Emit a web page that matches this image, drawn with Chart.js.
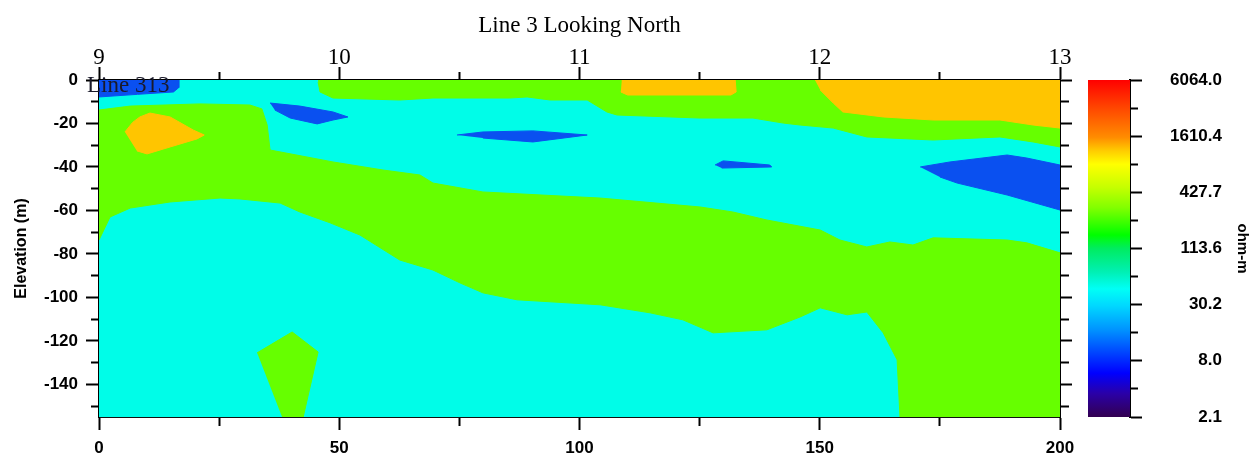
<!DOCTYPE html>
<html>
<head>
<meta charset="utf-8">
<title>Line 3 Looking North</title>
<script src="https://cdn.jsdelivr.net/npm/chart.js@4/dist/chart.umd.min.js"></script>
<style>
  body { margin: 0; background: #fff; }
  #wrap { position: relative; width: 1260px; height: 460px; }
  #wrap canvas { position: absolute; top: 0; }
</style>
</head>
<body>
<div id="wrap">
  <canvas id="section" width="1260" height="460" style="left:0"></canvas>
  <canvas id="colorbar" width="200" height="460" style="left:1060px"></canvas>
</div>
<script>
// section frame [distance (m), elevation (m)]
var sectionBox = [[0, 0], [200, 0], [200, -155], [0, -155]];

// green zones
var greenTop = [[45.6, 0], [200, 0], [200, -30.8], [194.4, -28.5], [187.5, -26.2], [173.6, -27.6],
  [159.8, -26.2], [152.8, -22.1], [145.9, -20.7], [142.4, -19.8], [136.1, -17.5], [125.1, -17.5],
  [107.8, -16.1], [105.7, -14.7], [101.6, -9.2], [93.9, -9.2], [89.1, -7.8], [85.5, -8.3],
  [69.5, -8.3], [62.6, -9.2], [48.7, -8.3], [46.0, -5.5], [45.6, -0.9]];
var greenMain = [[0, -13.8], [6.5, -12.0], [21.0, -11.0], [31.4, -11.5], [33.9, -13.3], [35.0, -20.7],
  [35.6, -32.2], [48.7, -37.7], [59.1, -41.4], [66.8, -43.7], [69.5, -47.4], [79.9, -51.5],
  [104.3, -54.3], [125.1, -58.4], [131.9, -60.7], [139.0, -64.4], [150.1, -69.0], [154.2, -73.6],
  [159.8, -76.8], [164.6, -74.5], [169.4, -75.9], [173.6, -72.6], [189.0, -73.6], [193.1, -74.9],
  [200, -79.5], [200, -155], [166.7, -155], [166.1, -128.7], [163.2, -116.3], [159.8, -106.7],
  [155.7, -108.0], [150.1, -104.8], [145.9, -109.0], [139.0, -114.9], [127.8, -116.3], [121.5, -110.3],
  [114.7, -107.1], [104.3, -103.4], [87.0, -101.1], [79.9, -97.9], [75.1, -93.3], [69.5, -87.4],
  [62.6, -82.8], [54.3, -71.3], [48.1, -65.7], [41.8, -60.7], [37.7, -56.6], [29.3, -54.7],
  [25.2, -54.3], [14.8, -56.1], [6.5, -58.9], [2.3, -63.0], [0, -73.6]];
var greenKnob = [[32.9, -125.5], [40.2, -115.9], [45.6, -125.1], [42.5, -155], [38.1, -155]];

// orange zones
var orangeLeft = [[5.4, -23.9], [7.0, -19.5], [8.5, -17.0], [10.6, -15.2], [14.8, -17.0], [19.6, -23.0],
  [21.9, -25.3], [20.4, -27.1], [14.8, -30.8], [10.0, -34.0], [7.9, -32.6]];
var orangeMid = [[108.8, 0], [132.4, 0], [132.6, -5.5], [131.5, -6.9], [110.0, -6.9], [108.6, -5.5]];
var orangeRight = [[149.0, 0], [200, 0], [200, -22.1], [194.4, -20.7], [187.5, -18.4], [173.6, -18.4],
  [163.2, -17.0], [154.8, -14.7], [152.8, -10.6], [150.1, -4.6]];

// blue zones
var blueCorner = [[0, 0], [16.6, 0], [16.6, -3.5], [15.5, -5.5], [8.0, -6.6], [0, -7.8]];
var blueLens1 = [[35.6, -10.6], [41.8, -12.0], [48.7, -14.7], [51.8, -17.0], [48.7, -18.4], [45.4, -20.2],
  [39.8, -17.5], [36.6, -13.8]];
var blueLens2 = [[74.5, -25.3], [79.9, -23.9], [90.3, -23.4], [101.6, -25.3], [90.3, -28.5], [79.9, -26.7]];
var blueLens3 = [[128.2, -39.1], [129.9, -37.2], [139.6, -39.1], [140.0, -40.0], [129.6, -40.5]];
var blueWedge = [[170.9, -40.0], [177.1, -37.7], [189.0, -34.5], [193.1, -35.9], [200, -39.1], [200, -59.8],
  [189.0, -52.9], [178.6, -47.4], [175.0, -44.6]];

// colour scale labels (ohm-m)
var scaleTicks = [2.1, 8.0, 30.2, 113.6, 427.7, 1610.4, 6064.0];

var CYAN = '#00fde8', GREEN = '#66ff00', ORANGE = '#ffc500', BLUE = '#0a50f0';

function zone(name, pts, color, order) {
  return {
    label: name,
    data: pts.map(function (p) { return {x: p[0], y: p[1]}; }),
    showLine: true,
    fill: 'shape',
    backgroundColor: color,
    borderColor: color,
    borderWidth: 1,
    pointRadius: 0,
    tension: 0,
    order: order
  };
}

// minor tick = shorter mark (dash trick)
function minorDash(step, fromOuter) {
  return function (c) {
    if (!c.tick || Math.abs(c.tick.value % step) < 1e-9) return [];
    return fromOuter ? [0, 5, 8, 100] : [8, 100];
  };
}

var serif = 'Liberation Serif';
var sans = 'Liberation Sans';

var lineTag = {
  id: 'lineTag',
  afterDraw: function (chart) {
    var ctx = chart.ctx, a = chart.chartArea;
    ctx.save();
    ctx.font = '23px "' + serif + '"';
    ctx.fillStyle = '#1a1a2a';
    ctx.textBaseline = 'middle';
    ctx.fillText('Line 313', a.left - 12, a.top + 6);
    ctx.restore();
  }
};

new Chart(document.getElementById('section'), {
  type: 'scatter',
  data: {
    datasets: [
      zone('background', sectionBox, CYAN, 10),
      zone('greenTop', greenTop, GREEN, 5),
      zone('greenMain', greenMain, GREEN, 5),
      zone('greenKnob', greenKnob, GREEN, 5),
      zone('orangeLeft', orangeLeft, ORANGE, 3),
      zone('orangeMid', orangeMid, ORANGE, 3),
      zone('orangeRight', orangeRight, ORANGE, 3),
      zone('blueCorner', blueCorner, BLUE, 1),
      zone('blueLens1', blueLens1, BLUE, 1),
      zone('blueLens2', blueLens2, BLUE, 1),
      zone('blueLens3', blueLens3, BLUE, 1),
      zone('blueWedge', blueWedge, BLUE, 1)
    ]
  },
  options: {
    responsive: false,
    animation: false,
    events: [],
    layout: { padding: 0 },
    plugins: {
      legend: { display: false },
      tooltip: { enabled: false },
      title: {
        display: true,
        fullSize: false,
        text: 'Line 3 Looking North',
        color: '#000',
        font: { family: serif, size: 23, weight: 'normal' },
        padding: { top: 12, bottom: 0 }
      }
    },
    scales: {
      x: {
        type: 'linear', position: 'bottom', min: 0, max: 200,
        afterFit: function (s) { s.height = 43; },
        ticks: {
          stepSize: 25, autoSkip: false, maxRotation: 0, padding: 8, color: '#000',
          font: { family: sans, size: 17, weight: 'bold' },
          callback: function (v) { return v % 50 === 0 ? v : ''; }
        },
        grid: { drawOnChartArea: false, tickLength: 13, tickWidth: 2, tickColor: '#000', tickBorderDash: minorDash(50, false) },
        border: { color: '#111', width: 2 }
      },
      x2: {
        type: 'linear', position: 'top', min: 9, max: 13,
        afterFit: function (s) { s.height = 40.4; },
        ticks: {
          stepSize: 0.5, autoSkip: false, maxRotation: 0, padding: -5, color: '#000',
          font: { family: serif, size: 23 },
          callback: function (v) { return v % 1 === 0 ? v : ''; }
        },
        grid: { drawOnChartArea: false, tickLength: 13, tickWidth: 2, tickColor: '#000', tickBorderDash: minorDash(1, true) },
        border: { color: '#000', width: 2 }
      },
      y: {
        type: 'linear', position: 'left', min: -155, max: 0,
        afterFit: function (s) { s.width = 99; },
        title: {
          display: true, text: 'Elevation (m)', color: '#000',
          font: { family: sans, size: 16, weight: 'bold' },
          padding: { top: 12, bottom: 0 }
        },
        ticks: {
          stepSize: 10, includeBounds: false, autoSkip: false, padding: 8, color: '#000',
          font: { family: sans, size: 17, weight: 'bold' },
          callback: function (v) { return v % 20 === 0 ? v : ''; }
        },
        grid: { drawOnChartArea: false, tickLength: 13, tickWidth: 2, tickColor: '#000', tickBorderDash: minorDash(20, true) },
        border: { color: '#000', width: 2 }
      },
      y2: {
        type: 'linear', position: 'right', min: -155, max: 0,
        afterFit: function (s) { s.width = 200; },
        ticks: { stepSize: 10, includeBounds: false, autoSkip: false, display: false },
        grid: { drawOnChartArea: false, tickLength: 12, tickWidth: 2, tickColor: '#000', tickBorderDash: minorDash(20, false) },
        border: { color: '#000', width: 2 }
      }
    }
  },
  plugins: [lineTag]
});

// colour bar
var rampStops = [
  [0.00, '#330050'], [0.07, '#2a00a8'], [0.13, '#0000ff'], [0.18, '#0038ff'],
  [0.26, '#0094ff'], [0.33, '#00d8ff'], [0.38, '#00fff6'], [0.43, '#00f0b4'],
  [0.50, '#00ec60'], [0.54, '#00ff00'], [0.62, '#80ff00'], [0.68, '#c4ff00'],
  [0.75, '#ffff00'], [0.79, '#ffcc00'], [0.83, '#ff8c00'], [0.92, '#ff4400'], [1.00, '#ff0000']
];

function rampFill(c) {
  var area = c.chart.chartArea;
  if (!area) return null;
  var g = c.chart.ctx.createLinearGradient(0, area.bottom, 0, area.top);
  rampStops.forEach(function (s) { g.addColorStop(s[0], s[1]); });
  return g;
}

new Chart(document.getElementById('colorbar'), {
  type: 'bar',
  data: {
    labels: ['ohm-m'],
    datasets: [{
      data: [[scaleTicks[0], scaleTicks[scaleTicks.length - 1]]],
      backgroundColor: rampFill,
      borderWidth: 0,
      barPercentage: 1,
      categoryPercentage: 1
    }]
  },
  options: {
    responsive: false,
    animation: false,
    events: [],
    layout: { padding: { left: 28, top: 80, bottom: 43, right: 8 } },
    plugins: { legend: { display: false }, tooltip: { enabled: false } },
    scales: {
      x: { display: false },
      y: {
        type: 'logarithmic', position: 'right',
        min: scaleTicks[0], max: scaleTicks[scaleTicks.length - 1],
        afterBuildTicks: function (s) {
          var t = [];
          scaleTicks.forEach(function (v, i) {
            t.push({ value: v });
            if (i < scaleTicks.length - 1) t.push({ value: Math.sqrt(v * scaleTicks[i + 1]) });
          });
          s.ticks = t;
        },
        afterFit: function (s) { s.width = 92; },
        ticks: {
          crossAlign: 'far', autoSkip: false, color: '#000',
          font: { family: sans, size: 17, weight: 'bold' },
          callback: function (v) { return scaleTicks.indexOf(v) >= 0 ? v.toFixed(1) : ''; }
        },
        grid: {
          drawOnChartArea: false, tickLength: 12, tickWidth: 2, tickColor: '#000',
          tickBorderDash: function (c) { return c.tick && scaleTicks.indexOf(c.tick.value) < 0 ? [7, 100] : []; }
        },
        border: { color: '#000', width: 2 }
      },
      unit: {
        axis: 'y', type: 'linear', position: 'right', min: 0, max: 1,
        afterFit: function (s) { s.width = 30; },
        ticks: { display: false },
        grid: { display: false },
        border: { display: false },
        title: {
          display: true, text: 'ohm-m', color: '#000',
          font: { family: sans, size: 15, weight: 'bold' },
          padding: { top: 1, bottom: 0 }
        }
      }
    }
  }
});
</script>
</body>
</html>
